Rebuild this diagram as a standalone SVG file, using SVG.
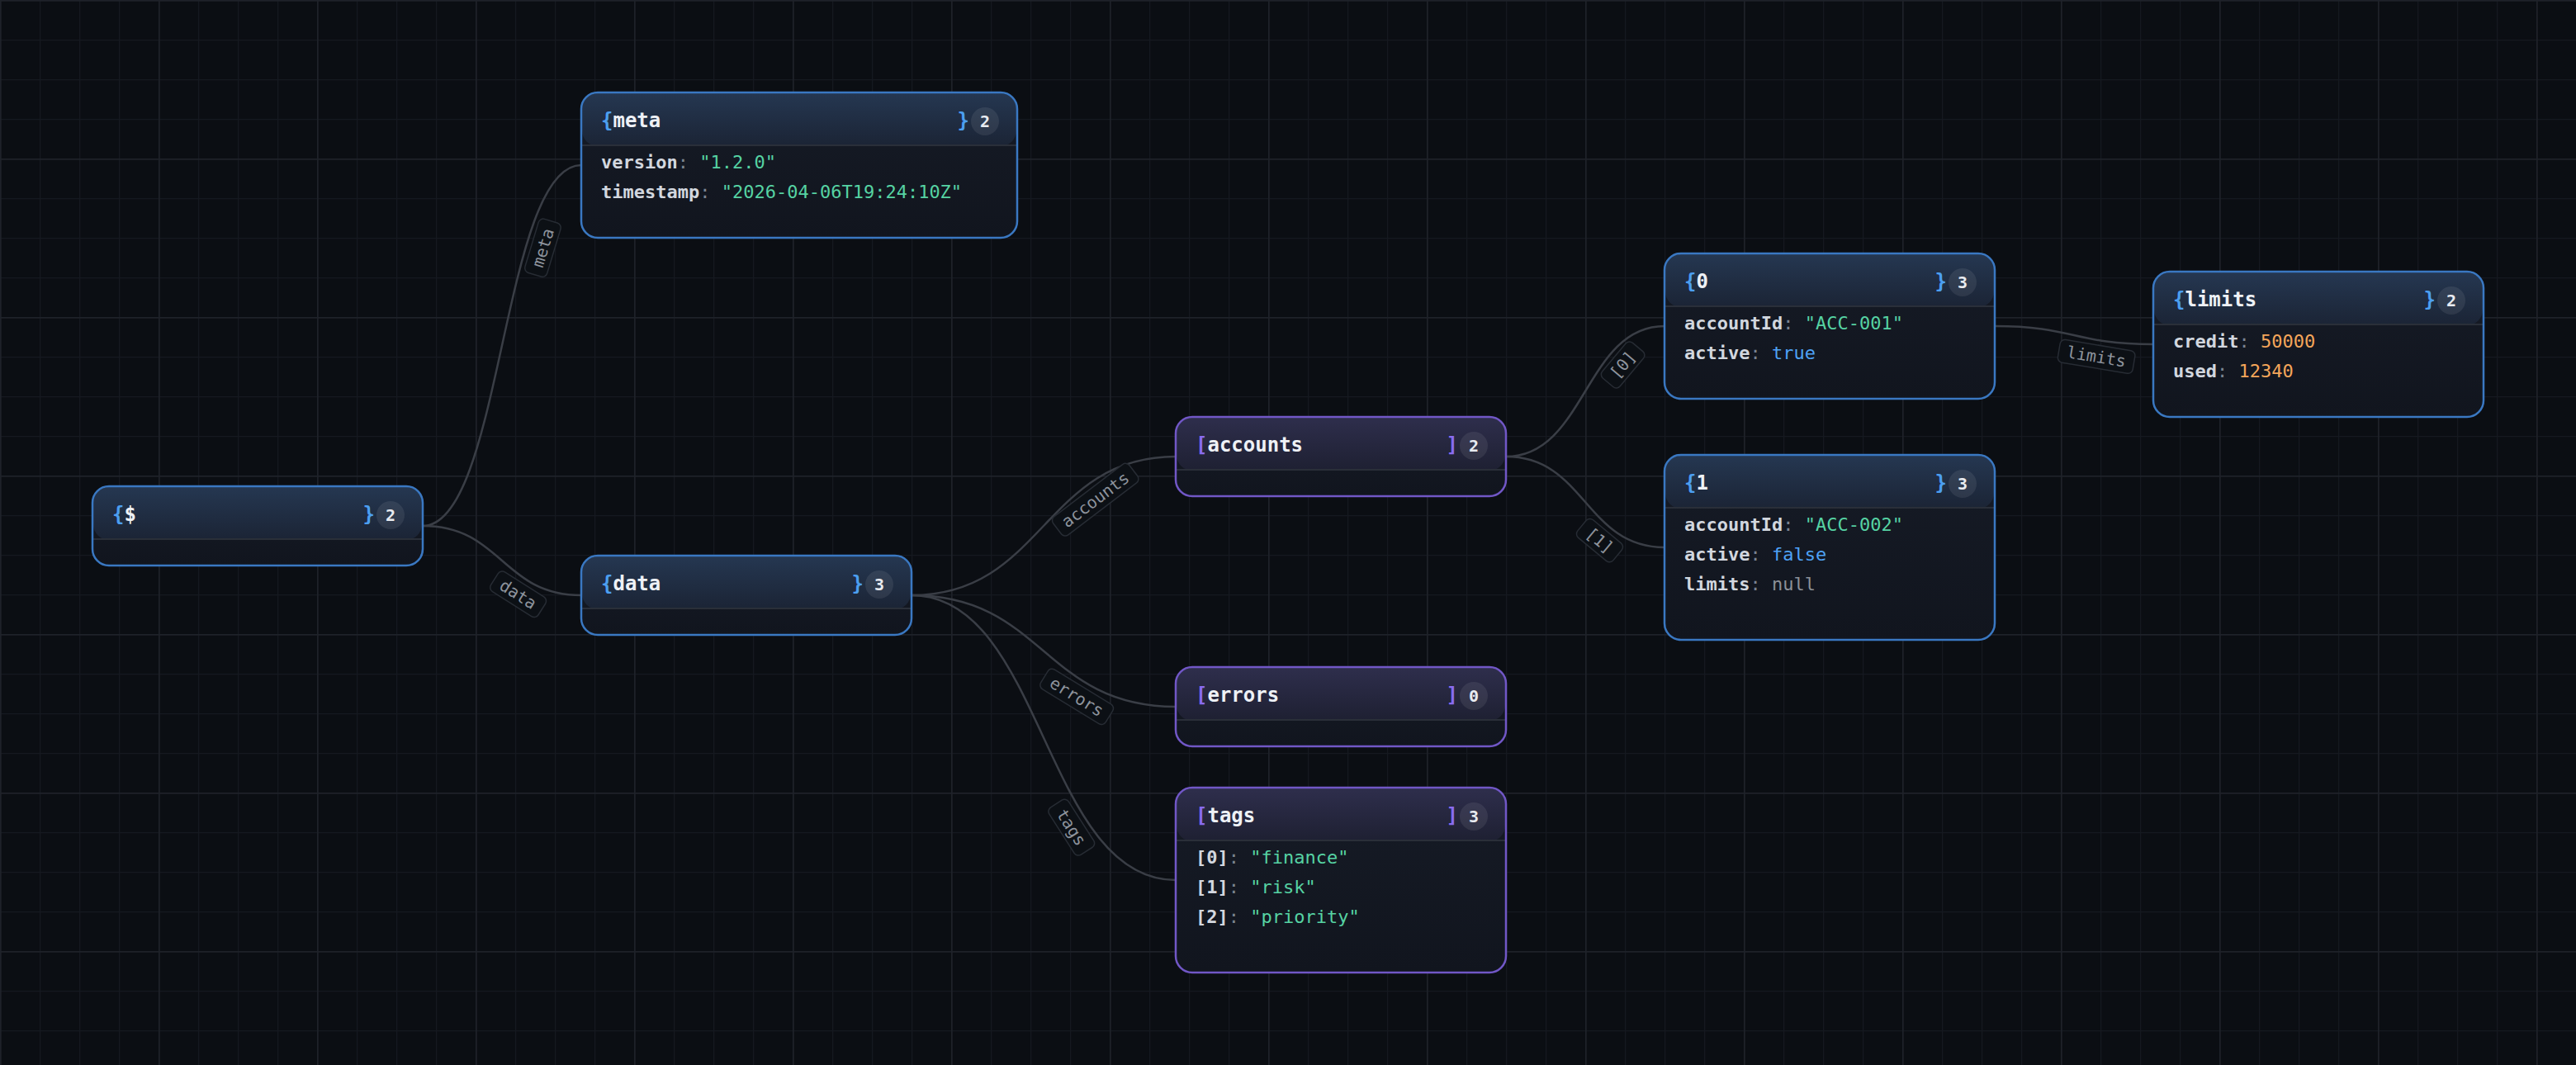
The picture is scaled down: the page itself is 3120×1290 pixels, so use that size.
<svg xmlns="http://www.w3.org/2000/svg" width="3120" height="1290" viewBox="0 0 3120 1290">
<defs>
<pattern id="gridMinor" width="48" height="48" patternUnits="userSpaceOnUse"><rect width="48" height="1.2" fill="#151920"/><rect width="1.2" height="48" fill="#151920"/></pattern>
<pattern id="gridMajor" width="192" height="192" patternUnits="userSpaceOnUse"><rect width="192" height="1.6" fill="#1e2229"/><rect width="1.6" height="192" fill="#1e2229"/></pattern>
<linearGradient id="hObj" x1="0" y1="0" x2="0" y2="1"><stop offset="0" stop-color="#253751"/><stop offset="1" stop-color="#1b2435"/></linearGradient>
<linearGradient id="hArr" x1="0" y1="0" x2="0" y2="1"><stop offset="0" stop-color="#2e2e4c"/><stop offset="1" stop-color="#1e2032"/></linearGradient>
<linearGradient id="bodyG" x1="0" y1="0" x2="0" y2="1"><stop offset="0" stop-color="#161b26"/><stop offset="1" stop-color="#11151e"/></linearGradient>
</defs>
<style>
.edge{fill:none;stroke:#3a3e46;stroke-width:2.5}
.lbl rect{fill:#0c1015;stroke:#272c34;stroke-width:1.5}
.lbl text{font-family:"DejaVu Sans Mono","Liberation Mono",monospace;font-size:20px;fill:#8e949d;text-anchor:middle}
.body{fill:url(#bodyG)}
.obj .head{fill:url(#hObj)}
.arr .head{fill:url(#hArr)}
.div{stroke:#2a2f39;stroke-width:2}
.frame{fill:none;stroke-width:2.5}
.obj .frame{stroke:#3a78c2}
.arr .frame{stroke:#7157c6}
.title{font-family:"DejaVu Sans Mono","Liberation Mono",monospace;font-size:24px;font-weight:bold;fill:#eef1f6}
.obj .br{fill:#4c9ff0}
.arr .br{fill:#8a6cf0}
.badge{fill:#ffffff;fill-opacity:0.08}
.cnt{font-family:"DejaVu Sans Mono","Liberation Mono",monospace;font-size:20px;font-weight:bold;fill:#e8ebf0;text-anchor:middle}
.row{font-family:"DejaVu Sans Mono","Liberation Mono",monospace;font-size:22px}
.k{font-weight:bold;fill:#d2d7df}
.p{fill:#7b8390}
.s{fill:#56d3a3}
.b{fill:#4ea2f5}
.n{fill:#f5a65a}
.z{fill:#8b9097}
</style>
<rect width="3120" height="1290" fill="#0b0e13"/>
<g id="grid">
<rect width="3120" height="1290" fill="url(#gridMinor)"/>
<rect width="3120" height="1290" fill="url(#gridMajor)"/>
</g>
<g id="connectors">
<path class="edge" d="M512 637 C608 637 608 200 704 200"/>
<path class="edge" d="M512 637 C608 637 608 721 704 721"/>
<path class="edge" d="M1104 721 C1264 721 1264 553 1424 553"/>
<path class="edge" d="M1104 721 C1264 721 1264 856 1424 856"/>
<path class="edge" d="M1104 721 C1264 721 1264 1066 1424 1066"/>
<path class="edge" d="M1824 553 C1920 553 1920 395 2016 395"/>
<path class="edge" d="M1824 553 C1920 553 1920 663 2016 663"/>
<path class="edge" d="M2416 395 C2512 395 2512 417 2608 417"/>
<g class="lbl" transform="translate(638.3 294.4) rotate(-73.13) translate(0 20)"><rect x="-34" y="-14" width="68" height="28" rx="6"/><text y="7">meta</text></g>
<g class="lbl" transform="translate(638.3 702.9) rotate(32.36) translate(0 20)"><rect x="-34" y="-14" width="68" height="28" rx="6"/><text y="7">data</text></g>
<g class="lbl" transform="translate(1314.6 589.3) rotate(-37.25) translate(0 20)"><rect x="-58" y="-14" width="116" height="28" rx="6"/><text y="7">accounts</text></g>
<g class="lbl" transform="translate(1314.6 826.8) rotate(31.43) translate(0 20)"><rect x="-46" y="-14" width="92" height="28" rx="6"/><text y="7">errors</text></g>
<g class="lbl" transform="translate(1314.6 991.4) rotate(57.36) translate(0 20)"><rect x="-34" y="-14" width="68" height="28" rx="6"/><text y="7">tags</text></g>
<g class="lbl" transform="translate(1950.3 429.1) rotate(-50) translate(0 20)"><rect x="-28" y="-14" width="56" height="28" rx="6"/><text y="7">[0]</text></g>
<g class="lbl" transform="translate(1950.3 639.2) rotate(39.7) translate(0 20)"><rect x="-28" y="-14" width="56" height="28" rx="6"/><text y="7">[1]</text></g>
<g class="lbl" transform="translate(2542.4 412.2) rotate(9.4) translate(0 20)"><rect x="-46" y="-14" width="92" height="28" rx="6"/><text y="7">limits</text></g>
</g>
<g id="node-root" class="obj">
<rect class="body" x="112" y="589" width="400" height="96" rx="20"/>
<rect class="head" x="113" y="590" width="398" height="64" rx="19"/>
<line class="div" x1="113" y1="653" x2="511" y2="653"/>
<rect class="frame" x="112" y="589" width="400" height="96" rx="20"/>
<text class="title" x="136" y="631"><tspan class="br">{</tspan>$</text>
<text class="title br" x="454" y="631" text-anchor="end">}</text>
<circle class="badge" cx="473" cy="624" r="17"/>
<text class="cnt" x="473" y="631">2</text>
</g>
<g id="node-meta" class="obj">
<rect class="body" x="704" y="112" width="528" height="176" rx="20"/>
<rect class="head" x="705" y="113" width="526" height="64" rx="19"/>
<line class="div" x1="705" y1="176" x2="1231" y2="176"/>
<rect class="frame" x="704" y="112" width="528" height="176" rx="20"/>
<text class="title" x="728" y="154"><tspan class="br">{</tspan>meta</text>
<text class="title br" x="1174" y="154" text-anchor="end">}</text>
<circle class="badge" cx="1193" cy="147" r="17"/>
<text class="cnt" x="1193" y="154">2</text>
<text class="row" x="728" y="204"><tspan class="k">version</tspan><tspan class="p">: </tspan><tspan class="s">"1.2.0"</tspan></text>
<text class="row" x="728" y="240"><tspan class="k">timestamp</tspan><tspan class="p">: </tspan><tspan class="s">"2026-04-06T19:24:10Z"</tspan></text>
</g>
<g id="node-data" class="obj">
<rect class="body" x="704" y="673" width="400" height="96" rx="20"/>
<rect class="head" x="705" y="674" width="398" height="64" rx="19"/>
<line class="div" x1="705" y1="737" x2="1103" y2="737"/>
<rect class="frame" x="704" y="673" width="400" height="96" rx="20"/>
<text class="title" x="728" y="715"><tspan class="br">{</tspan>data</text>
<text class="title br" x="1046" y="715" text-anchor="end">}</text>
<circle class="badge" cx="1065" cy="708" r="17"/>
<text class="cnt" x="1065" y="715">3</text>
</g>
<g id="node-accounts" class="arr">
<rect class="body" x="1424" y="505" width="400" height="96" rx="20"/>
<rect class="head" x="1425" y="506" width="398" height="64" rx="19"/>
<line class="div" x1="1425" y1="569" x2="1823" y2="569"/>
<rect class="frame" x="1424" y="505" width="400" height="96" rx="20"/>
<text class="title" x="1448" y="547"><tspan class="br">[</tspan>accounts</text>
<text class="title br" x="1766" y="547" text-anchor="end">]</text>
<circle class="badge" cx="1785" cy="540" r="17"/>
<text class="cnt" x="1785" y="547">2</text>
</g>
<g id="node-errors" class="arr">
<rect class="body" x="1424" y="808" width="400" height="96" rx="20"/>
<rect class="head" x="1425" y="809" width="398" height="64" rx="19"/>
<line class="div" x1="1425" y1="872" x2="1823" y2="872"/>
<rect class="frame" x="1424" y="808" width="400" height="96" rx="20"/>
<text class="title" x="1448" y="850"><tspan class="br">[</tspan>errors</text>
<text class="title br" x="1766" y="850" text-anchor="end">]</text>
<circle class="badge" cx="1785" cy="843" r="17"/>
<text class="cnt" x="1785" y="850">0</text>
</g>
<g id="node-tags" class="arr">
<rect class="body" x="1424" y="954" width="400" height="224" rx="20"/>
<rect class="head" x="1425" y="955" width="398" height="64" rx="19"/>
<line class="div" x1="1425" y1="1018" x2="1823" y2="1018"/>
<rect class="frame" x="1424" y="954" width="400" height="224" rx="20"/>
<text class="title" x="1448" y="996"><tspan class="br">[</tspan>tags</text>
<text class="title br" x="1766" y="996" text-anchor="end">]</text>
<circle class="badge" cx="1785" cy="989" r="17"/>
<text class="cnt" x="1785" y="996">3</text>
<text class="row" x="1448" y="1046"><tspan class="k">[0]</tspan><tspan class="p">: </tspan><tspan class="s">"finance"</tspan></text>
<text class="row" x="1448" y="1082"><tspan class="k">[1]</tspan><tspan class="p">: </tspan><tspan class="s">"risk"</tspan></text>
<text class="row" x="1448" y="1118"><tspan class="k">[2]</tspan><tspan class="p">: </tspan><tspan class="s">"priority"</tspan></text>
</g>
<g id="node-accounts-0" class="obj">
<rect class="body" x="2016" y="307" width="400" height="176" rx="20"/>
<rect class="head" x="2017" y="308" width="398" height="64" rx="19"/>
<line class="div" x1="2017" y1="371" x2="2415" y2="371"/>
<rect class="frame" x="2016" y="307" width="400" height="176" rx="20"/>
<text class="title" x="2040" y="349"><tspan class="br">{</tspan>0</text>
<text class="title br" x="2358" y="349" text-anchor="end">}</text>
<circle class="badge" cx="2377" cy="342" r="17"/>
<text class="cnt" x="2377" y="349">3</text>
<text class="row" x="2040" y="399"><tspan class="k">accountId</tspan><tspan class="p">: </tspan><tspan class="s">"ACC-001"</tspan></text>
<text class="row" x="2040" y="435"><tspan class="k">active</tspan><tspan class="p">: </tspan><tspan class="b">true</tspan></text>
</g>
<g id="node-accounts-1" class="obj">
<rect class="body" x="2016" y="551" width="400" height="224" rx="20"/>
<rect class="head" x="2017" y="552" width="398" height="64" rx="19"/>
<line class="div" x1="2017" y1="615" x2="2415" y2="615"/>
<rect class="frame" x="2016" y="551" width="400" height="224" rx="20"/>
<text class="title" x="2040" y="593"><tspan class="br">{</tspan>1</text>
<text class="title br" x="2358" y="593" text-anchor="end">}</text>
<circle class="badge" cx="2377" cy="586" r="17"/>
<text class="cnt" x="2377" y="593">3</text>
<text class="row" x="2040" y="643"><tspan class="k">accountId</tspan><tspan class="p">: </tspan><tspan class="s">"ACC-002"</tspan></text>
<text class="row" x="2040" y="679"><tspan class="k">active</tspan><tspan class="p">: </tspan><tspan class="b">false</tspan></text>
<text class="row" x="2040" y="715"><tspan class="k">limits</tspan><tspan class="p">: </tspan><tspan class="z">null</tspan></text>
</g>
<g id="node-limits" class="obj">
<rect class="body" x="2608" y="329" width="400" height="176" rx="20"/>
<rect class="head" x="2609" y="330" width="398" height="64" rx="19"/>
<line class="div" x1="2609" y1="393" x2="3007" y2="393"/>
<rect class="frame" x="2608" y="329" width="400" height="176" rx="20"/>
<text class="title" x="2632" y="371"><tspan class="br">{</tspan>limits</text>
<text class="title br" x="2950" y="371" text-anchor="end">}</text>
<circle class="badge" cx="2969" cy="364" r="17"/>
<text class="cnt" x="2969" y="371">2</text>
<text class="row" x="2632" y="421"><tspan class="k">credit</tspan><tspan class="p">: </tspan><tspan class="n">50000</tspan></text>
<text class="row" x="2632" y="457"><tspan class="k">used</tspan><tspan class="p">: </tspan><tspan class="n">12340</tspan></text>
</g>
</svg>
